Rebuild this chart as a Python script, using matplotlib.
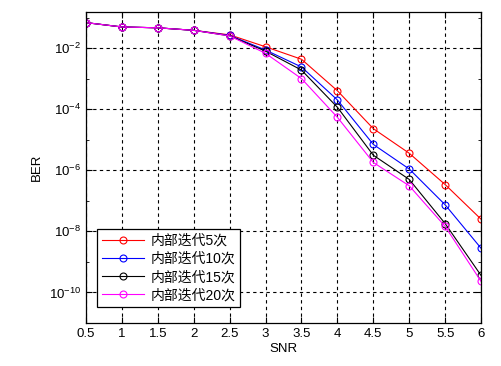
import numpy as np
import matplotlib
matplotlib.use("Agg")
import matplotlib.pyplot as plt
from matplotlib.ticker import FixedLocator, LogFormatterSciNotation, NullFormatter

plt.rcParams['font.family'] = ['Liberation Sans', 'Noto Sans CJK SC', 'DejaVu Sans']
plt.rcParams['mathtext.fontset'] = 'custom'
plt.rcParams['mathtext.rm'] = 'Liberation Sans'

snr = [0.5, 1, 1.5, 2, 2.5, 3, 3.5, 4, 4.5, 5, 5.5, 6]

# BER curves
ber_5 = [0.068, 0.049, 0.046, 0.038, 0.027, 1.1e-2, 4.3e-3, 4.0e-4,
         2.3e-5, 3.6e-6, 3.4e-7, 2.5e-8]
ber_10 = [0.068, 0.049, 0.046, 0.038, 0.026, 8.6e-3, 2.4e-3, 2.0e-4,
          7.0e-6, 1.1e-6, 7.4e-8, 2.8e-9]
ber_15 = [0.068, 0.049, 0.046, 0.038, 0.025, 7.9e-3, 1.9e-3, 1.15e-4,
          3.1e-6, 5.0e-7, 1.8e-8, 3.6e-10]
ber_20 = [0.068, 0.049, 0.046, 0.038, 0.025, 6.7e-3, 1.0e-3, 5.4e-5,
          1.8e-6, 3.1e-7, 1.45e-8, 2.3e-10]

labels = ['内部迭代5次', '内部迭代10次', '内部迭代15次', '内部迭代20次']
colors = ['red', 'blue', 'black', 'magenta']

fig = plt.figure(figsize=(5.01, 3.66), dpi=100)
ax = fig.add_axes([0.1717, 0.1175, 0.7885, 0.8497])

for y, lab, c in zip([ber_5, ber_10, ber_15, ber_20], labels, colors):
    ax.semilogy(snr, y, '-o', color=c, label=lab, linewidth=0.8,
                markersize=5, markerfacecolor='none', markeredgewidth=0.8)

ax.set_xlim(0.5, 6)
ax.set_ylim(1e-11, 10 ** -0.82)
ax.set_xticks(snr)
ax.set_xticklabels(['0.5', '1', '1.5', '2', '2.5', '3', '3.5', '4', '4.5', '5', '5.5', '6'])
ax.yaxis.set_major_locator(FixedLocator([1e-10, 1e-8, 1e-6, 1e-4, 1e-2]))
ax.yaxis.set_major_formatter(LogFormatterSciNotation())
ax.yaxis.set_minor_locator(FixedLocator([1e-11, 1e-9, 1e-7, 1e-5, 1e-3, 1e-1]))
ax.yaxis.set_minor_formatter(NullFormatter())
ax.tick_params(which='both', direction='in', top=True, right=True, labelsize=9.5)
ax.tick_params(which='major', length=4)
ax.tick_params(which='minor', length=2)
ax.grid(which='major', linestyle=(0, (3, 3)), color='black', linewidth=0.8)
for s in ax.spines.values():
    s.set_linewidth(0.9)

ax.set_xlabel('SNR', fontsize=9.5, labelpad=2)
ax.set_ylabel('BER', fontsize=9.5, labelpad=4)

leg = ax.legend(loc='lower left', bbox_to_anchor=(0.028, 0.051), borderaxespad=0,
                fontsize=10, fancybox=False, edgecolor='black', framealpha=1,
                handlelength=3, borderpad=0.35, labelspacing=0.3,
                handletextpad=0.5)
leg.get_frame().set_linewidth(0.9)

fig.savefig('out.png', dpi=100)
